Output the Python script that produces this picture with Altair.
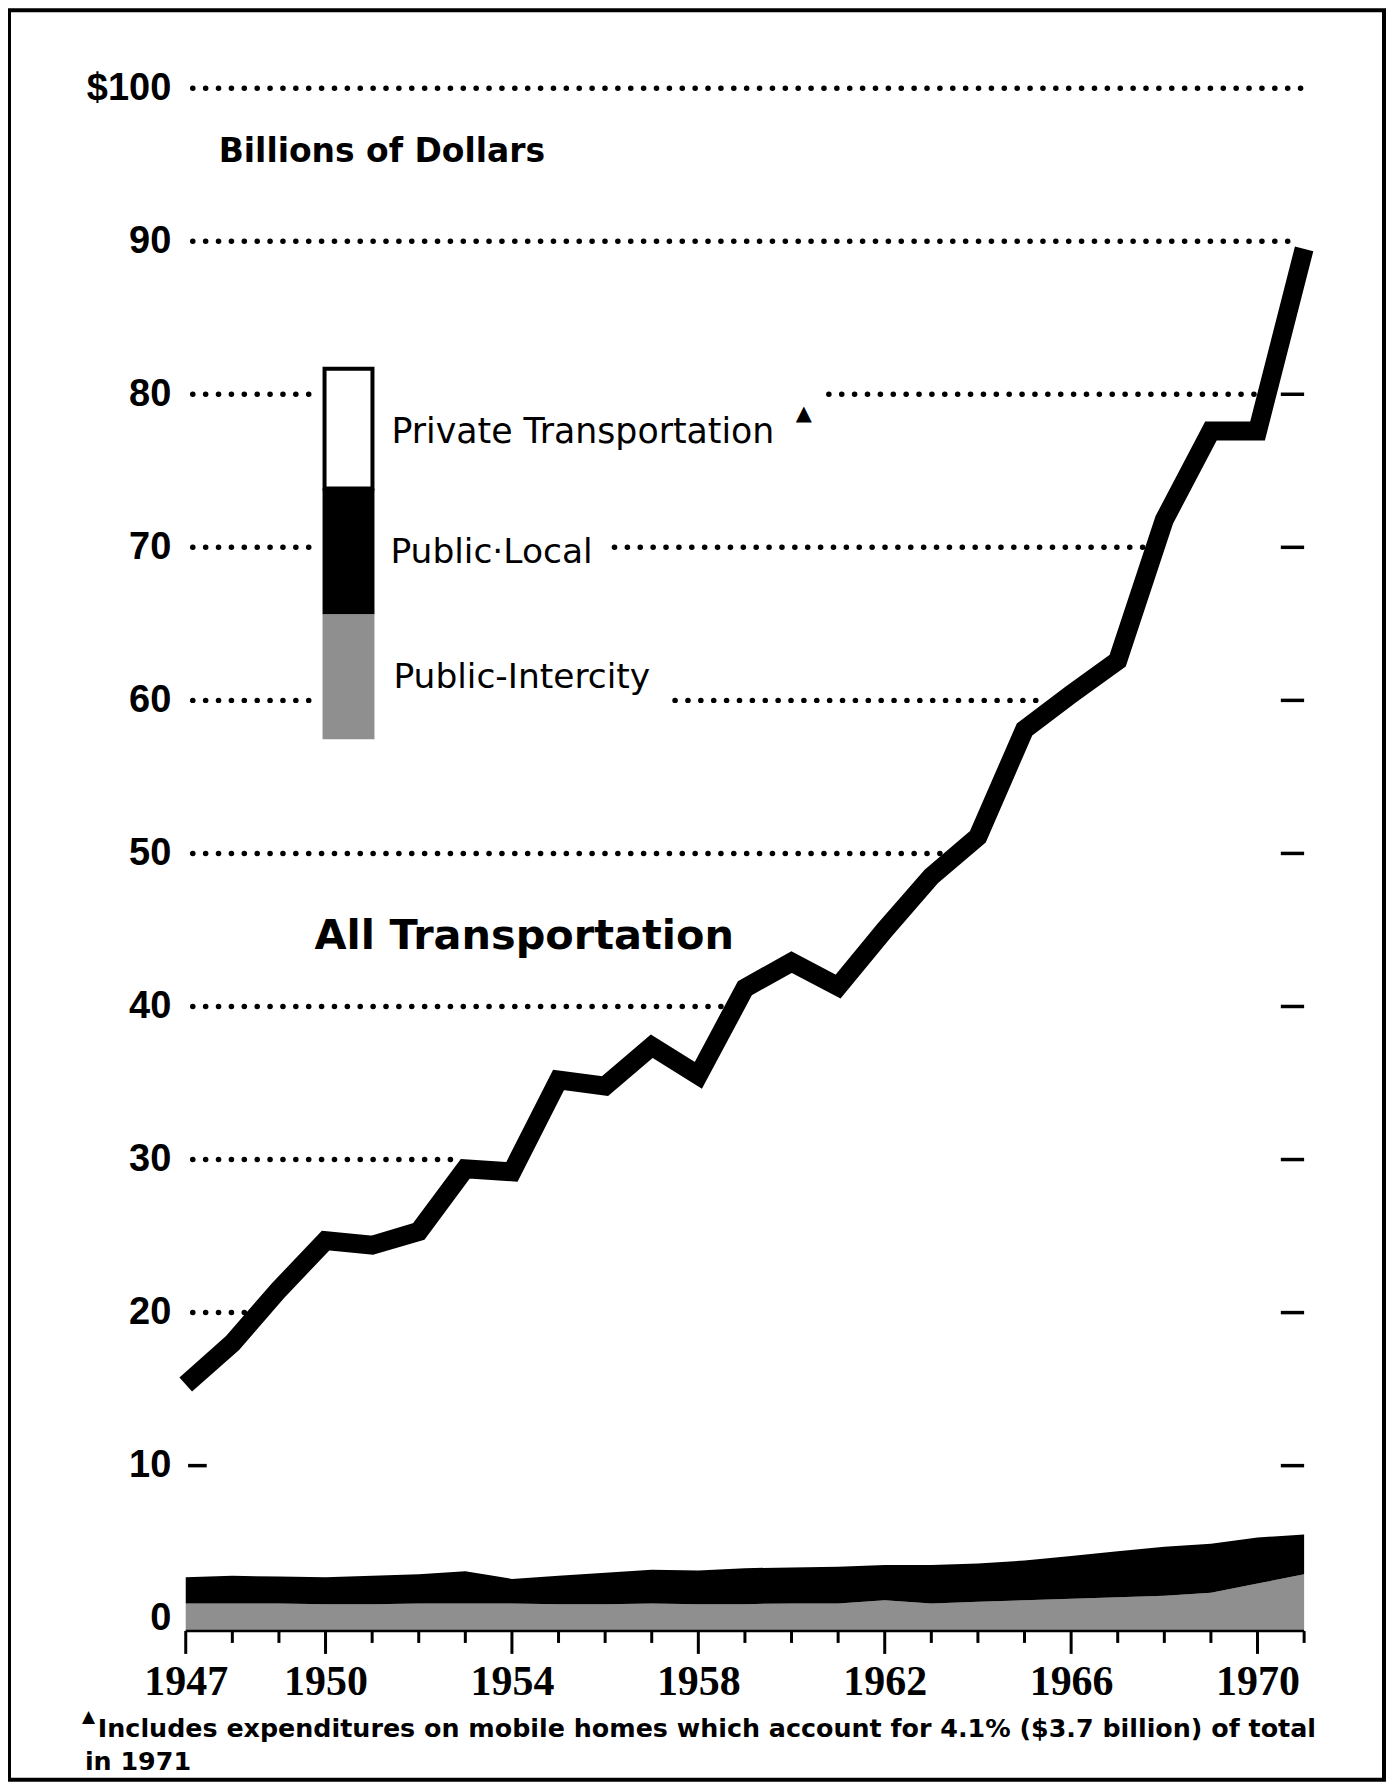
import altair as alt
import pandas as pd

# ---------------- data ----------------
years = list(range(1947, 1972))
all_transport = [15.3, 18.0, 21.5, 24.7, 24.4, 25.3, 29.4, 29.2, 35.2, 34.8,
                 37.4, 35.5, 41.2, 42.9, 41.3, 45.0, 48.5, 51.1, 58.1, 60.4,
                 62.6, 71.8, 77.6, 77.6, 89.5]
public_total = [2.7, 2.8, 2.75, 2.7, 2.8, 2.9, 3.1, 2.6, 2.8, 3.0,
                3.2, 3.15, 3.3, 3.35, 3.4, 3.5, 3.5, 3.6, 3.8, 4.1,
                4.4, 4.7, 4.9, 5.3, 5.5]
public_intercity = [1.0, 1.0, 1.0, 0.95, 0.95, 1.0, 1.0, 1.0, 0.95, 0.95,
                    1.0, 0.95, 0.95, 1.0, 1.0, 1.2, 1.0, 1.1, 1.2, 1.3,
                    1.4, 1.5, 1.7, 2.3, 2.9]
y_ticks = [0, 10, 20, 30, 40, 50, 60, 70, 80, 90, 100]
x_labels = [1947, 1950, 1954, 1958, 1962, 1966, 1970]
major_tick_years = [1947, 1950, 1954, 1958, 1962, 1966, 1970]
grid_levels = [20, 30, 40, 50, 60, 70, 80, 90, 100]
right_dash_levels = [10, 20, 30, 40, 50, 60, 70, 80]
legend_labels = ["Private Transportation", "Public·Local", "Public-Intercity"]
footnote_1 = "Includes expenditures on mobile homes which account for 4.1% ($3.7 billion)  of total"
footnote_2 = "in 1971"

# ---------------- geometry ----------------
W, H = 1120, 1545
YMIN = -0.8
GRAY = "#8f8f8f"
SANS = "DejaVu Sans"
SERIF = "Liberation Serif"

df = pd.DataFrame({
    "year": years,
    "total": all_transport,
    "pub": public_total,
    "inter": public_intercity,
})
df["base"] = YMIN

xs = alt.Scale(domain=[1947, 1971], nice=False, zero=False)
ys = alt.Scale(domain=[YMIN, 100], nice=False, zero=False)

xaxis = alt.Axis(
    values=x_labels, format="d", ticks=False, domain=False, grid=False,
    labelFont=SERIF, labelFontSize=42, labelFontWeight="bold", labelColor="black",
    labelPadding=31, labelOverlap=False, labelBound=False, labelFlush=False,
    title=None)
yaxis = alt.Axis(
    values=y_ticks, labelExpr="datum.value == 100 ? '$100' : datum.label",
    ticks=False, domain=False, grid=False,
    labelFont="Liberation Sans", labelFontSize=38, labelFontWeight="bold",
    labelColor="black", labelPadding=15, labelOverlap=False, labelBound=False,
    labelFlush=False, title=None)

def X(f):
    return alt.X(f, scale=xs, axis=xaxis)

def Y(f):
    return alt.Y(f, scale=ys, axis=yaxis)

# dotted grid segments: stop where the thick line reaches the level
def reach(level):
    thr = level - 0.6
    for i in range(1, len(years)):
        if all_transport[i] >= thr:
            a, b = all_transport[i - 1], all_transport[i]
            if a >= thr:
                return years[i - 1]
            return years[i - 1] + (thr - a) / (b - a)
    return 1971.1

legend_gap = {80: (1949.7, 1960.8), 70: (1949.7, 1956.2), 60: (1949.7, 1957.5)}
seg_rows = []
for lv in grid_levels:
    start = 1947.15
    end = min(reach(lv) - 0.1, 1971.0)
    if lv in legend_gap:
        g0, g1 = legend_gap[lv]
        seg_rows.append({"lv": lv, "x0": start, "x1": g0})
        seg_rows.append({"lv": lv, "x0": g1, "x1": end})
    else:
        seg_rows.append({"lv": lv, "x0": start, "x1": end})
seg_df = pd.DataFrame(seg_rows)

grid = alt.Chart(seg_df).mark_rule(
    strokeDash=[0.1, 12.8], strokeCap="round", strokeWidth=5.5, color="black"
).encode(x=X("x0:Q"), x2="x1:Q", y=Y("lv:Q"))

dash_df = pd.DataFrame({"lv": right_dash_levels, "x0": 1970.5, "x1": 1971.0})
right_dash = alt.Chart(dash_df).mark_rule(strokeWidth=3.5, color="black").encode(
    x=X("x0:Q"), x2="x1:Q", y=Y("lv:Q"))
ldash_df = pd.DataFrame({"lv": [10], "x0": [1947.05], "x1": [1947.45]})
left_dash = alt.Chart(ldash_df).mark_rule(strokeWidth=3.5, color="black").encode(
    x=X("x0:Q"), x2="x1:Q", y=Y("lv:Q"))

# areas
inter_area = alt.Chart(df).mark_area(color=GRAY, interpolate="linear").encode(
    x=X("year:Q"), y=Y("base:Q"), y2="inter:Q")
local_area = alt.Chart(df).mark_area(color="black", interpolate="linear").encode(
    x=X("year:Q"), y=Y("inter:Q"), y2="pub:Q")

# main line
line = alt.Chart(df).mark_line(
    color="black", strokeWidth=19, strokeJoin="miter", strokeCap="butt"
).encode(x=X("year:Q"), y=Y("total:Q"))

# x axis baseline and ticks
base_df = pd.DataFrame({"a": [1947], "b": [1971], "y": [YMIN]})
baseline = alt.Chart(base_df).mark_rule(strokeWidth=2.5, color="black").encode(
    x=X("a:Q"), x2="b:Q", y=Y("y:Q"))
minor_years = [y for y in years if y not in major_tick_years]
minor_ticks = alt.Chart(pd.DataFrame({"year": minor_years})).mark_rule(
    strokeWidth=3, color="black"
).encode(x=X("year:Q"), y=alt.value(H), y2=alt.value(H + 12))
major_ticks = alt.Chart(pd.DataFrame({"year": major_tick_years})).mark_rule(
    strokeWidth=3, color="black"
).encode(x=X("year:Q"), y=alt.value(H), y2=alt.value(H + 23))

# legend box
leg_df = pd.DataFrame({"k": [0]})
leg_white = alt.Chart(leg_df).mark_rect(fill="white", stroke="black", strokeWidth=4).encode(
    x=alt.value(139), x2=alt.value(187), y=alt.value(281), y2=alt.value(401))
leg_black = alt.Chart(leg_df).mark_rect(fill="black").encode(
    x=alt.value(137), x2=alt.value(189), y=alt.value(401), y2=alt.value(527))
leg_gray = alt.Chart(leg_df).mark_rect(fill=GRAY).encode(
    x=alt.value(137), x2=alt.value(189), y=alt.value(527), y2=alt.value(652))

def label(txt, x, y, size, weight="normal", font=SANS, align="left"):
    return alt.Chart(pd.DataFrame({"t": [txt]})).mark_text(
        font=font, fontSize=size, fontWeight=weight, color="black",
        align=align, baseline="middle"
    ).encode(x=alt.value(x), y=alt.value(y), text="t:N")

texts = [
    label("Billions of Dollars", 33, 64, 33, "bold"),
    label("All Transportation", 129, 850, 41.5, "bold"),
    label(legend_labels[0], 206, 345, 34.8),
    label("▲", 611, 326, 21),
    label(legend_labels[1], 205, 466, 34.5),
    label(legend_labels[2], 208, 591, 34.5),
    label("▲", -104, 1631, 17),
    label(footnote_1, -88, 1643, 25.4, "bold"),
    label(footnote_2, -101, 1676, 25.4, "bold"),
]

border = alt.Chart(leg_df).mark_rect(fill="white", fillOpacity=0, stroke="black", strokeWidth=4).encode(
    x=alt.value(-177), x2=alt.value(1200), y=alt.value(-78), y2=alt.value(1694))

chart = alt.layer(
    grid, right_dash, left_dash, inter_area, local_area, baseline,
    minor_ticks, major_ticks, line,
    leg_white, leg_black, leg_gray, *texts, border,
).properties(
    width=W, height=H,
    autosize=alt.AutoSizeParams(type="none"),
    padding={"left": 178, "top": 79, "right": 82, "bottom": 151},
    background="white",
).configure_view(strokeWidth=0)

chart.save("out.html", embed_options={"renderer": "svg", "actions": False})
